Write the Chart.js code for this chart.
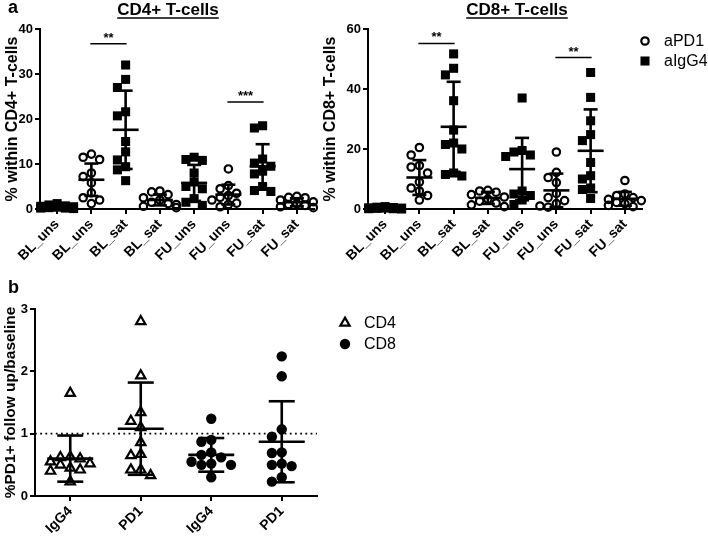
<!DOCTYPE html>
<html>
<head>
<meta charset="utf-8">
<script src="https://cdn.jsdelivr.net/npm/chart.js@4.4.0/dist/chart.umd.min.js"></script>
<style>
  body { margin: 0; background: #fff; }
  #wrap { position: relative; width: 708px; height: 538px; }
  canvas { position: absolute; }
</style>
</head>
<body>
<div id="wrap">
  <canvas id="cd4Chart" width="340" height="280" style="left:0;top:0"></canvas>
  <canvas id="cd8Chart" width="390" height="280" style="left:318px;top:0"></canvas>
  <canvas id="ratioChart" width="480" height="258" style="left:0;top:280px"></canvas>
</div>
<script>
// ---- data ----
const groupsA = ['BL_uns', 'BL_uns', 'BL_sat', 'BL_sat', 'FU_uns', 'FU_uns', 'FU_sat', 'FU_sat'];
const igg4Groups = [0, 2, 4, 6];   // filled squares
const pd1Groups = [1, 3, 5, 7];    // open circles

const cd4Values = [
  [1.2, 0.9, 0.7, 0.6, 0.5, 0.4, 0.3, 0.2, 0.2, 0.1],
  [12.2, 11.5, 11.0, 8.0, 7.2, 5.8, 3.6, 2.5, 2.0, 1.2],
  [32.0, 28.8, 27.0, 21.6, 20.7, 15.0, 12.7, 10.9, 9.4, 8.7, 6.3],
  [4.0, 3.8, 3.2, 2.5, 2.0, 1.5, 1.2, 1.0, 0.6, 0.3],
  [11.5, 11.0, 10.8, 8.0, 6.0, 5.0, 4.5, 2.3, 1.5, 0.8],
  [8.9, 5.2, 4.5, 3.5, 3.0, 2.6, 2.0, 1.3, 1.0, 0.5],
  [18.5, 18.0, 11.1, 10.2, 9.5, 8.4, 7.8, 5.0, 4.1, 3.9],
  [2.8, 2.6, 2.5, 2.0, 1.6, 1.2, 1.0, 0.8, 0.5, 0.3]
];
const cd4Mean = [0.45, 6.5, 17.6, 2.0, 5.8, 3.2, 9.5, 1.5];
const cd4Sd = [0.35, 3.6, 8.7, 1.2, 4.0, 2.2, 4.9, 0.9];

const cd8Values = [
  [0.8, 0.6, 0.5, 0.4, 0.3, 0.3, 0.2, 0.1, 0.1, 0.0],
  [20.5, 18.0, 14.5, 14.0, 12.0, 9.0, 7.0, 6.0, 4.5, 3.0],
  [51.7, 46.9, 44.7, 36.1, 26.3, 22.0, 21.5, 20.0, 12.0, 11.5, 11.0],
  [6.2, 6.0, 5.6, 4.8, 4.0, 3.3, 2.6, 2.0, 1.4, 0.8],
  [37.0, 19.5, 19.0, 18.0, 17.5, 6.0, 5.0, 4.5, 3.0, 1.5],
  [19.0, 12.2, 10.5, 8.8, 5.2, 3.8, 2.8, 1.8, 1.0, 0.6],
  [45.5, 37.2, 29.4, 24.8, 22.8, 15.5, 11.1, 10.0, 7.0, 6.5, 3.5],
  [9.5, 5.0, 4.5, 3.8, 3.2, 2.8, 2.2, 1.8, 1.2, 0.8]
];
const cd8Mean = [0.3, 10.5, 27.4, 3.7, 13.3, 6.2, 19.4, 3.4];
const cd8Sd = [0.25, 5.8, 15.0, 2.0, 10.4, 5.6, 13.8, 2.3];

const sigCD4 = [{from: 1, to: 2, y: 36.7, text: '**'}, {from: 5, to: 6, y: 23.8, text: '***'}];
const sigCD8 = [{from: 1, to: 2, y: 55.2, text: '**'}, {from: 5, to: 6, y: 50.5, text: '**'}];

const groupsB = ['IgG4', 'PD1', 'IgG4', 'PD1'];
const cd4Groups = [0, 1];   // open triangles
const cd8Groups = [2, 3];   // filled circles
const ratioValues = [
  [1.65, 0.63, 0.62, 0.60, 0.55, 0.52, 0.50, 0.45, 0.42, 0.40, 0.23],
  [2.80, 1.93, 1.34, 1.20, 1.10, 0.86, 0.67, 0.65, 0.42, 0.42, 0.33],
  [1.24, 0.90, 0.87, 0.70, 0.66, 0.62, 0.55, 0.52, 0.50, 0.50, 0.30],
  [2.24, 1.92, 1.07, 0.95, 0.70, 0.69, 0.52, 0.50, 0.48, 0.30, 0.23]
];
const ratioMean = [0.60, 1.08, 0.66, 0.87];
const ratioSd = [0.37, 0.74, 0.27, 0.65];
const baselineRatio = 1;

// ---- styles ----
Chart.defaults.font.family = '"Liberation Sans", Arial, Helvetica, sans-serif';
Chart.defaults.color = '#000';
const FAMILY = Chart.defaults.font.family;

const openCircle = {pointStyle: 'circle', pointRadius: 3.7, pointBorderWidth: 2.2, pointBorderColor: '#000', pointBackgroundColor: 'rgba(0,0,0,0)'};
const filledSquare = {pointStyle: 'rect', pointRadius: 6.4, pointBorderWidth: 0, pointBorderColor: '#000', pointBackgroundColor: '#000'};
const openTriangle = {pointStyle: 'triangle', pointRadius: 5.4, pointBorderWidth: 2.2, pointBorderColor: '#000', pointBackgroundColor: 'rgba(0,0,0,0)'};
const filledCircle = {pointStyle: 'circle', pointRadius: 5.2, pointBorderWidth: 0, pointBorderColor: '#000', pointBackgroundColor: '#000'};

// spread points of one group sideways so they don't sit on top of each other
function swarm(values, center, xStep, ySize) {
  const placed = [];
  const slots = [0, -1, 1, -2, 2];
  return values.map((v, n) => {
    let k = slots.find(s => !placed.some(p => Math.abs(p.y - v) < ySize && p.k === s));
    if (k === undefined) k = slots[n % slots.length];
    placed.push({k: k, y: v});
    return {x: center + k * xStep, y: v};
  });
}

function groupPoints(values, groups, xStep, ySize) {
  return groups.flatMap(g => swarm(values[g], g, xStep, ySize));
}

// mean line + SD whiskers
function errorSets(means, sds, meanR, capR) {
  const bars = [], caps = [], mids = [];
  means.forEach((m, i) => {
    bars.push({x: i, y: m - sds[i]}, {x: i, y: m + sds[i]}, {x: i, y: null});
    caps.push({x: i, y: m - sds[i]}, {x: i, y: m + sds[i]});
    mids.push({x: i, y: m});
  });
  return [
    {type: 'line', data: bars, borderColor: '#000', borderWidth: 2.6, pointRadius: 0, spanGaps: false, order: 0, clip: false},
    {type: 'scatter', data: caps, pointStyle: 'line', pointRadius: capR, pointBorderWidth: 2.6, pointBorderColor: '#000', order: 0, clip: false},
    {type: 'scatter', data: mids, pointStyle: 'line', pointRadius: meanR, pointBorderWidth: 2.6, pointBorderColor: '#000', order: 0, clip: false}
  ];
}

function xAxis(labels, height) {
  return {
    type: 'linear', min: -0.5, max: labels.length - 0.5,
    afterBuildTicks: s => { s.ticks = labels.map((l, i) => ({value: i})); },
    afterFit: s => { s.height = height; },
    ticks: {callback: v => labels[v], autoSkip: false, minRotation: 45, maxRotation: 45, padding: 2, font: {size: 14, weight: 'bold'}},
    grid: {drawOnChartArea: false, drawTicks: true, tickLength: 5, color: '#000', lineWidth: 2},
    border: {color: '#000', width: 2}
  };
}

function yAxis(max, step, title, width, titleSize, titlePad) {
  return {
    min: 0, max: max,
    afterFit: s => { s.width = width; },
    ticks: {stepSize: step, padding: 2, font: {size: 13, weight: 'bold'}},
    grid: {drawOnChartArea: false, drawTicks: true, tickLength: 5, color: '#000', lineWidth: 2},
    border: {color: '#000', width: 2},
    title: {display: true, text: title, font: {size: titleSize, weight: 'bold'}, padding: {top: titlePad, bottom: 0}}
  };
}

function drawSymbol(ctx, style, x, y) {
  ctx.save();
  ctx.fillStyle = style.pointBackgroundColor;
  ctx.strokeStyle = style.pointBorderColor;
  ctx.lineWidth = style.pointBorderWidth;
  Chart.helpers.drawPoint(ctx, {pointStyle: style.pointStyle, radius: style.pointRadius, rotation: 0, borderWidth: style.pointBorderWidth}, x, y);
  ctx.restore();
}

const panelDecor = {
  id: 'panelDecor',
  afterDraw(chart, args, opts) {
    const ctx = chart.ctx, xs = chart.scales.x, ys = chart.scales.y;
    ctx.save();
    ctx.fillStyle = '#000';
    ctx.strokeStyle = '#000';
    if (opts.letter) {
      ctx.font = 'bold 18px ' + FAMILY;
      ctx.textAlign = 'left';
      ctx.textBaseline = 'alphabetic';
      ctx.fillText(opts.letter, opts.letterAt[0], opts.letterAt[1]);
    }
    if (opts.title) {
      ctx.font = 'bold 17px ' + FAMILY;
      ctx.textAlign = 'center';
      ctx.textBaseline = 'alphabetic';
      const [tx, ty] = opts.titleAt;
      ctx.fillText(opts.title, tx, ty);
      const w = ctx.measureText(opts.title).width;
      ctx.lineWidth = 1.5;
      ctx.beginPath();
      ctx.moveTo(tx - w / 2, ty + 3);
      ctx.lineTo(tx + w / 2, ty + 3);
      ctx.stroke();
    }
    (opts.sig || []).forEach(s => {
      const x1 = xs.getPixelForValue(s.from) - 1, x2 = xs.getPixelForValue(s.to) + 1;
      const y = ys.getPixelForValue(s.y);
      ctx.lineWidth = 1.5;
      ctx.beginPath();
      ctx.moveTo(x1, y);
      ctx.lineTo(x2, y);
      ctx.stroke();
      ctx.font = 'bold 13px ' + FAMILY;
      ctx.textAlign = 'center';
      ctx.textBaseline = 'alphabetic';
      ctx.fillText(s.text, (x1 + x2) / 2, y - 2);
    });
    (opts.legend || []).forEach((item, i) => {
      const lx = opts.legendAt[0], ly = opts.legendAt[1] + i * opts.legendGap;
      drawSymbol(ctx, item.style, lx, ly);
      ctx.fillStyle = '#000';
      ctx.font = '16px ' + FAMILY;
      ctx.textAlign = 'left';
      ctx.textBaseline = 'middle';
      ctx.fillText(item.label, lx + 19, ly + 1);
    });
    ctx.restore();
  }
};

const common = {
  responsive: false,
  animation: false,
  events: []
};

// ---- a: CD4+ T-cells ----
new Chart(document.getElementById('cd4Chart'), {
  type: 'scatter',
  data: {
    datasets: [
      Object.assign({label: 'aPD1', data: groupPoints(cd4Values, pd1Groups, 0.24, 1.9), order: 1, clip: false}, openCircle),
      Object.assign({label: 'aIgG4', data: groupPoints(cd4Values, igg4Groups, 0.24, 1.9), order: 1, clip: false}, filledSquare),
      ...errorSets(cd4Mean, cd4Sd, 13, 7)
    ]
  },
  options: Object.assign({}, common, {
    layout: {padding: {top: 29, right: 26, left: 0, bottom: 0}},
    scales: {x: xAxis(groupsA, 71), y: yAxis(40, 10, '% within CD4+ T-cells', 40, 16, 3)},
    plugins: {
      legend: {display: false}, tooltip: {enabled: false},
      panelDecor: {letter: 'a', letterAt: [8, 13], title: 'CD4+ T-cells', titleAt: [168, 15], sig: sigCD4}
    }
  }),
  plugins: [panelDecor]
});

// ---- a: CD8+ T-cells ----
new Chart(document.getElementById('cd8Chart'), {
  type: 'scatter',
  data: {
    datasets: [
      Object.assign({label: 'aPD1', data: groupPoints(cd8Values, pd1Groups, 0.24, 2.9), order: 1, clip: false}, openCircle),
      Object.assign({label: 'aIgG4', data: groupPoints(cd8Values, igg4Groups, 0.24, 2.9), order: 1, clip: false}, filledSquare),
      ...errorSets(cd8Mean, cd8Sd, 13, 7)
    ]
  },
  options: Object.assign({}, common, {
    layout: {padding: {top: 29, right: 66, left: 0, bottom: 0}},
    scales: {x: xAxis(groupsA, 71), y: yAxis(60, 20, '% within CD8+ T-cells', 50, 16, 3)},
    plugins: {
      legend: {display: false}, tooltip: {enabled: false},
      panelDecor: {
        title: 'CD8+ T-cells', titleAt: [199, 15], sig: sigCD8,
        legend: [{label: 'aPD1', style: openCircle}, {label: 'aIgG4', style: filledSquare}],
        legendAt: [327, 41], legendGap: 20
      }
    }
  }),
  plugins: [panelDecor]
});

// ---- b: follow up / baseline ----
new Chart(document.getElementById('ratioChart'), {
  type: 'scatter',
  data: {
    datasets: [
      Object.assign({label: 'CD4', data: groupPoints(ratioValues, cd4Groups, 0.14, 0.15), order: 1, clip: false}, openTriangle),
      Object.assign({label: 'CD8', data: groupPoints(ratioValues, cd8Groups, 0.14, 0.15), order: 1, clip: false}, filledCircle),
      ...errorSets(ratioMean, ratioSd, 23, 13),
      {type: 'line', data: [{x: -0.5, y: baselineRatio}, {x: 3.5, y: baselineRatio}], borderColor: '#000', borderWidth: 1.8, borderDash: [1.8, 3.4], pointRadius: 0, order: 2}
    ]
  },
  options: Object.assign({}, common, {
    layout: {padding: {top: 29, right: 163, left: 0, bottom: 0}},
    scales: {x: xAxis(groupsB, 42), y: yAxis(3, 1, '%PD1+ follow up/baseline', 35, 15.5, 1)},
    plugins: {
      legend: {display: false}, tooltip: {enabled: false},
      panelDecor: {
        letter: 'b', letterAt: [8, 13],
        legend: [{label: 'CD4', style: openTriangle}, {label: 'CD8', style: filledCircle}],
        legendAt: [345, 43], legendGap: 21
      }
    }
  }),
  plugins: [panelDecor]
});
</script>
</body>
</html>
